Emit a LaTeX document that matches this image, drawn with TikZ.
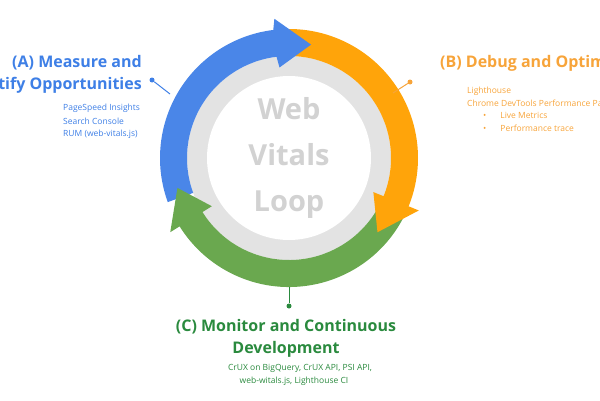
\documentclass[tikz,border=0pt]{standalone}
\usepackage{fontspec}
\setmainfont{Open Sans}
\begin{document}
\begin{tikzpicture}[x=1pt,y=1pt,
 ttl/.style={font=\fontsize{16}{22}\selectfont\bfseries, inner sep=0pt},
 sub/.style={font=\fontsize{8.5}{13}\selectfont, inner sep=0pt},
 dot/.style={circle,fill,inner sep=0pt,minimum size=5pt}]
\definecolor{cb}{HTML}{4A86E8}\definecolor{co}{HTML}{FFA40A}\definecolor{cg}{HTML}{6AA84F}
\definecolor{tb}{HTML}{3E7FE6}\definecolor{to}{HTML}{F7A43A}\definecolor{tg}{HTML}{2A8A3E}
\useasboundingbox[clip] (0,0) rectangle (600,400);
\coordinate (c) at (289,242);
\def\Ri{102}\def\Ro{129}\def\Rm{115.5}
% gray ring
\fill[gray!22] (c) circle (\Ri);
\fill[white] (c) circle (82);
\node[font=\fontsize{29}{46}\selectfont\bfseries,text=gray!35,align=center] (loop) at (c) {Web\\Vitals\\Loop};
% blue body
\fill[cb] ([shift={(200:\Ro)}]c) arc[start angle=200,end angle=96,radius=\Ro] -- ([shift={(96:\Ri)}]c) arc[start angle=96,end angle=200,radius=\Ri] -- cycle;
% green
\fill[cg] ([shift={(-28:\Ro)}]c) arc[start angle=-28,end angle=-148,radius=\Ro] -- ([shift={(-148:\Ro+11)}]c) -- ([shift={(-165:\Rm)}]c) -- ([shift={(-148:\Ri-11)}]c) -- ([shift={(-148:\Ri)}]c) arc[start angle=-148,end angle=-28,radius=\Ri] -- cycle;
% orange
\fill[co] ([shift={(92:\Ro)}]c) arc[start angle=92,end angle=-22,radius=\Ro] -- ([shift={(-22:\Ro+11)}]c) -- ([shift={(-40:\Rm)}]c) -- ([shift={(-22:\Ri-11)}]c) -- ([shift={(-22:\Ri)}]c) arc[start angle=-22,end angle=92,radius=\Ri] -- cycle;
% blue head
\fill[cb] ([shift={(97:\Ro)}]c) -- ([shift={(96:\Ro+11)}]c) -- ([shift={(79:\Rm)}]c) -- ([shift={(96:\Ri-11)}]c) -- ([shift={(97:\Ri)}]c) -- cycle;
% connectors
\node[dot,tb] (da) at (152,320) {};
\coordinate (ea) at (170,306);
\draw[tb,line width=1pt] (da) -- (ea);
\node[dot,to] (db) at (410,318) {};
\coordinate (eb) at (393,307);
\draw[to,line width=1pt] (db) -- (eb);
\node[dot,tg] (dc) at (289,94) {};
\coordinate (ec) at (289,113);
\draw[tg,line width=1pt] (dc) -- (ec);
% texts A
\node[ttl,text=tb,anchor=east] (ta1) at (142,337) {(A) Measure and};
\node[ttl,text=tb,anchor=east] (ta2) at (142,315) {Identify Opportunities};
\node[sub,text=tb,anchor=west] (sa1) at (63,292) {PageSpeed Insights};
\node[sub,text=tb,anchor=west] (sa2) at (63,279) {Search Console};
\node[sub,text=tb,anchor=west] (sa3) at (63,266) {RUM (web-vitals.js)};
% texts B
\node[ttl,text=to,anchor=west] (tb1) at (440,337) {(B) Debug and Optimize};
\node[sub,text=to,anchor=west] (sb1) at (467,309) {Lighthouse};
\node[sub,text=to,anchor=west] (sb2) at (467,297) {Chrome DevTools Performance Panel};
\node[sub,text=to,anchor=west] (sb3) at (483,285) {\textbullet\hspace{14pt}Live Metrics};
\node[sub,text=to,anchor=west] (sb4) at (483,272) {\textbullet\hspace{14pt}Performance trace};
% texts C
\node[ttl,text=tg] (tc1) at (286,73) {(C) Monitor and Continuous};
\node[ttl,text=tg] (tc2) at (286,51) {Development};
\node[sub,text=tg] (sc1) at (300,32) {CrUX on BigQuery, CrUX API, PSI API,};
\node[sub,text=tg] (sc2) at (294,19) {web-witals.js, Lighthouse CI};
\end{tikzpicture}
\end{document}
